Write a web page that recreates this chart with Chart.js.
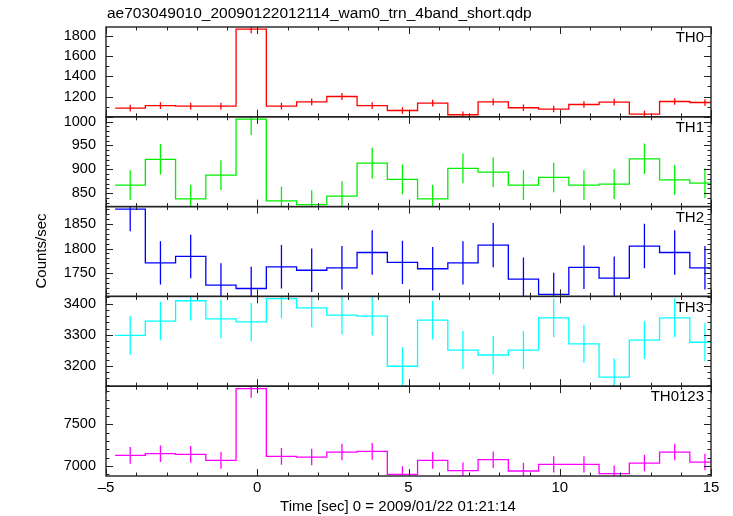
<!DOCTYPE html>
<html lang="en">
<head>
<meta charset="UTF-8">
<title>ae703049010 WAM light curve</title>
<style>
  body { margin: 0; background: #fff; }
  .wrap { position: relative; width: 733px; height: 516px; }
</style>
<script src="https://cdn.jsdelivr.net/npm/chart.js"></script>
</head>
<body>
<div class="wrap"><canvas id="lc" width="733" height="516"></canvas></div>
<script>
const titleText = 'ae703049010_20090122012114_wam0_trn_4band_short.qdp';
const xTitle = 'Time [sec] 0 = 2009/01/22 01:21:14';
const yTitle = 'Counts/sec';

// bin centres in seconds, bins are 1 s wide
const times = [-4.2, -3.2, -2.2, -1.2, -0.2, 0.8, 1.8, 2.8, 3.8, 4.8,
               5.8, 6.8, 7.8, 8.8, 9.8, 10.8, 11.8, 12.8, 13.8, 14.8];
const binWidth = 1.0;

const th0 = [1086, 1111, 1105, 1105, 1864, 1105, 1148, 1200, 1111, 1062,
             1135, 1020, 1148, 1089, 1076, 1121, 1145, 1027, 1151, 1141];
const th0Err = [33, 33, 33, 33, 40, 33, 33, 34, 33, 32, 33, 32, 33, 33, 32, 33, 33, 32, 33, 33];

const th1 = [867, 921, 838, 888, 1005, 834, 826, 844, 913, 879,
             838, 902, 894, 867, 883, 867, 869, 922, 878, 871];
const th1Err = [31, 32, 30, 31, 33, 30, 30, 31, 32, 31, 30, 31, 31, 31, 31, 31, 31, 32, 31, 31];

const th2 = [1880, 1771, 1784, 1726, 1719, 1763, 1756, 1761, 1792, 1772,
             1759, 1771, 1807, 1738, 1707, 1762, 1740, 1805, 1792, 1761];
const th2Err = [45, 44, 44, 44, 44, 44, 44, 44, 45, 44, 44, 44, 45, 44, 44, 44, 44, 45, 45, 44];

const th3 = [3298, 3344, 3409, 3351, 3341, 3416, 3386, 3363, 3360, 3199,
             3347, 3251, 3235, 3251, 3354, 3271, 3164, 3283, 3354, 3276];
const th3Err = [62, 62, 63, 62, 62, 63, 62, 62, 62, 61, 62, 61, 61, 61, 62, 61, 60, 61, 62, 61];

const th0123 = [7128, 7148, 7140, 7068, 7932, 7116, 7108, 7168, 7176, 6900,
                7068, 6944, 7076, 6940, 7020, 7020, 6908, 7036, 7168, 7048];
const th0123Err = [100, 100, 100, 100, 110, 100, 100, 100, 100, 98, 100, 98, 100, 98, 99, 99, 98, 99, 100, 99];

const panelNames = ['TH0', 'TH1', 'TH2', 'TH3', 'TH0123'];
const panelColors = ['#ff0000', '#00f000', '#0000ff', '#00ffff', '#ff00ff'];

// axis ranges and tick labels per panel
const yMins = [1000, 822, 1703, 3135, 6880];
const yMaxs = [1885, 1010, 1885, 3423, 7960];
const yTickLabels = [
  [1200, 1400, 1600, 1800],
  [850, 900, 950, 1000],
  [1750, 1800, 1850],
  [3200, 3300, 3400],
  [7000, 7500]
];
const yMinorSteps = [100, 10, 10, 20, 100];
const yMajorSteps = [200, 50, 50, 100, 500];
const xTicks = [-5, 0, 5, 10, 15];

const FONT = "'Liberation Sans', Arial, sans-serif";
const series = [th0, th1, th2, th3, th0123];
const errors = [th0Err, th1Err, th2Err, th3Err, th0123Err];

// step outline: value holds from left bin edge to the next edge
function stepPoints(vals) {
  const pts = times.map((t, i) => ({ x: t - binWidth / 2, y: vals[i] }));
  pts.push({ x: times[times.length - 1] + binWidth / 2, y: vals[vals.length - 1] });
  return pts;
}

// vertical error bars, broken with null between bins
function errPoints(vals, errs) {
  const pts = [];
  times.forEach((t, i) => {
    pts.push({ x: t, y: vals[i] - errs[i] });
    pts.push({ x: t, y: vals[i] + errs[i] });
    pts.push({ x: t, y: null });
  });
  return pts;
}

const datasets = [];
const scales = {
  x: {
    type: 'linear', position: 'bottom', min: -5, max: 15,
    grid: { display: false, drawTicks: false }, border: { display: false },
    ticks: {
      color: '#000', font: { family: FONT, size: 15 }, padding: 3, maxRotation: 0, autoSkip: false,
      callback: v => String(v).replace('-', '\u2013')
    },
    afterBuildTicks: s => { s.ticks = xTicks.map(v => ({ value: v })); },
    afterFit: s => { s.height = 40; }
  }
};

// stacked scales are laid out bottom-up, so add the last panel first
for (let p = panelNames.length - 1; p >= 0; p--) {
  scales['y' + p] = {
    type: 'linear', position: 'left', stack: 'panels', stackWeight: 1,
    min: yMins[p], max: yMaxs[p],
    grid: { display: false, drawTicks: false }, border: { display: false },
    ticks: { color: '#000', font: { family: FONT, size: 14.5 }, padding: 10, autoSkip: false,
             callback: v => String(v) },
    afterBuildTicks: s => { s.ticks = yTickLabels[p].map(v => ({ value: v })); },
    afterFit: s => { s.width = 106; }
  };
}

panelNames.forEach((name, p) => {
  const id = 'y' + p;
  datasets.push({
    label: name, yAxisID: id, data: stepPoints(series[p]),
    borderColor: panelColors[p], borderWidth: 1.3, pointRadius: 0,
    stepped: 'before', fill: false
  });
  datasets.push({
    label: name + ' err', yAxisID: id, data: errPoints(series[p], errors[p]),
    borderColor: panelColors[p], borderWidth: 1.3, pointRadius: 0,
    spanGaps: false, fill: false
  });
});

// keep each panel's lines inside its own box
const panelClip = {
  id: 'panelClip',
  beforeDatasetDraw(chart, args) {
    const s = chart.scales[args.meta.yAxisID];
    const a = chart.chartArea;
    const ctx = chart.ctx;
    ctx.save();
    ctx.beginPath();
    ctx.rect(a.left, s.top, a.right - a.left, s.bottom - s.top);
    ctx.clip();
  },
  afterDatasetDraw(chart) {
    chart.ctx.restore();
  }
};

// frames, inward ticks and the text around the panels
const qdpFrame = {
  id: 'qdpFrame',
  afterDraw(chart) {
    const ctx = chart.ctx;
    const a = chart.chartArea;
    const xs = chart.scales.x;
    ctx.save();
    ctx.strokeStyle = '#222';
    panelNames.forEach((name, p) => {
      const s = chart.scales['y' + p];
      ctx.lineWidth = 1.4;
      ctx.strokeRect(a.left, s.top, a.right - a.left, s.bottom - s.top);
      ctx.lineWidth = 1;
      ctx.beginPath();
      for (let t = -5; t <= 15; t += 1) {
        const px = Math.round(xs.getPixelForValue(t)) + 0.5;
        const len = t % 5 === 0 ? 7 : 3.5;
        ctx.moveTo(px, s.top); ctx.lineTo(px, s.top + len);
        ctx.moveTo(px, s.bottom); ctx.lineTo(px, s.bottom - len);
      }
      const step = yMinorSteps[p];
      for (let v = Math.ceil(yMins[p] / step) * step; v <= yMaxs[p]; v += step) {
        const py = Math.round(s.getPixelForValue(v)) + 0.5;
        const len = v % yMajorSteps[p] === 0 ? 7 : 3.5;
        ctx.moveTo(a.left, py); ctx.lineTo(a.left + len, py);
        ctx.moveTo(a.right, py); ctx.lineTo(a.right - len, py);
      }
      ctx.stroke();

      ctx.fillStyle = '#000';
      ctx.font = '15px ' + FONT;
      ctx.textAlign = 'right';
      ctx.textBaseline = 'middle';
      ctx.fillText(name, a.right - 7, s.top + 11);
    });

    ctx.fillStyle = '#000';
    ctx.font = '15.5px ' + FONT;
    ctx.textAlign = 'left';
    ctx.textBaseline = 'middle';
    ctx.fillText(titleText, 107, 14);

    ctx.font = '15px ' + FONT;
    ctx.textAlign = 'center';
    ctx.fillText(xTitle, 398, 507);

    ctx.translate(42, 251);
    ctx.rotate(-Math.PI / 2);
    ctx.fillText(yTitle, 0, 0);
    ctx.restore();
  }
};

new Chart(document.getElementById('lc'), {
  type: 'line',
  data: { datasets },
  options: {
    responsive: false,
    animation: false,
    devicePixelRatio: 1,
    layout: { padding: { top: 27, right: 22, bottom: 0, left: 0 } },
    plugins: { legend: { display: false }, tooltip: { enabled: false }, title: { display: false } },
    scales
  },
  plugins: [panelClip, qdpFrame]
});
</script>
</body>
</html>
